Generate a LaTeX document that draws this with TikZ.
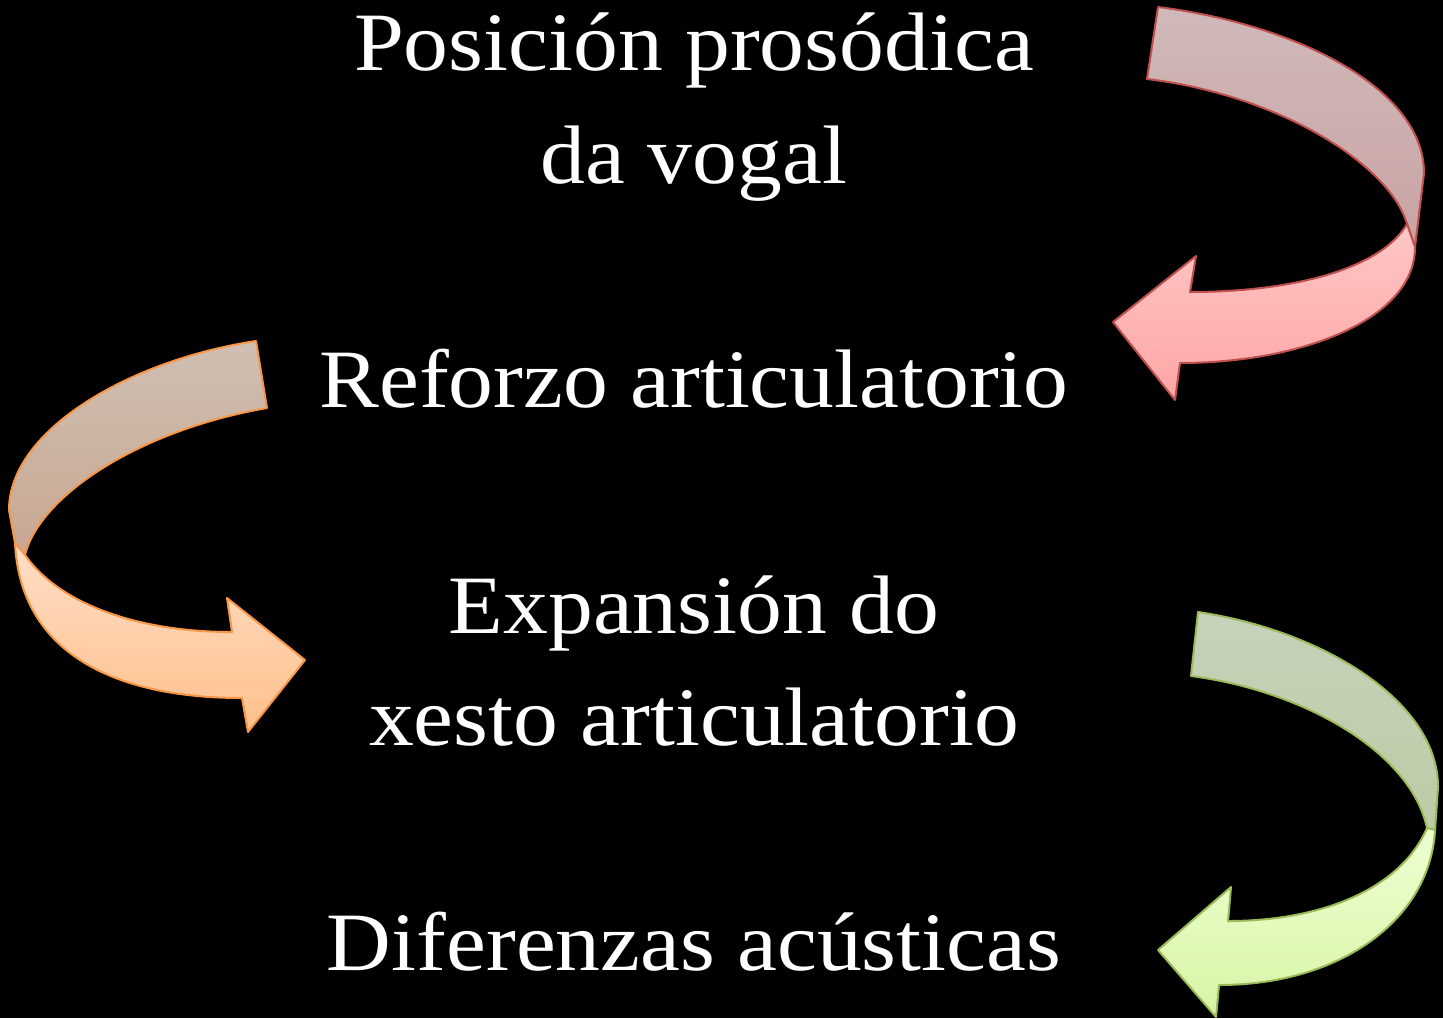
\documentclass[tikz,border=0pt]{standalone}
\usepackage{fontspec}
\setmainfont{Liberation Serif}[FakeStretch=1.08]
\begin{document}
\begin{tikzpicture}[x=0.5pt,y=-0.5pt,
  lbl/.style={text=white,inner sep=0pt,anchor=base,font=\fontsize{41.5}{50}\selectfont},
  redback/.style={draw=red!50!black!60!red, line width=1pt, top color=rtopb, bottom color=rbotb},
]
\definecolor{rline}{HTML}{C0504D}
\definecolor{rtopb}{HTML}{D0B9B9}
\definecolor{rbotb}{HTML}{C9A3A3}
\definecolor{rtopf}{HTML}{FFC6C6}
\definecolor{rbotf}{HTML}{FFA6A6}
\definecolor{oline}{HTML}{F79646}
\definecolor{otopb}{HTML}{CFBFB2}
\definecolor{obotb}{HTML}{C8A792}
\definecolor{otopf}{HTML}{FFDEC6}
\definecolor{obotf}{HTML}{FFC08C}
\definecolor{gline}{HTML}{9BBB59}
\definecolor{gtopb}{HTML}{C6D2BA}
\definecolor{gbotb}{HTML}{BDCBA6}
\definecolor{gtopf}{HTML}{EEFFD2}
\definecolor{gbotf}{HTML}{D6F5A6}
\tikzset{
  rb/.style={draw=rline, line width=1pt, line join=round, top color=rtopb, bottom color=rbotb},
  rf/.style={draw=rline, line width=1pt, line join=round, top color=rtopf, bottom color=rbotf},
  ob/.style={draw=oline, line width=1pt, line join=round, top color=otopb, bottom color=obotb},
  of/.style={draw=oline, line width=1pt, line join=round, top color=otopf, bottom color=obotf},
  gb/.style={draw=gline, line width=1pt, line join=round, top color=gtopb, bottom color=gbotb},
  gf/.style={draw=gline, line width=1pt, line join=round, top color=gtopf, bottom color=gbotf},
}
\fill[black] (0,0) rectangle (1443,1018);
\useasboundingbox (0,0) rectangle (1443,1018);

% text
\node[lbl] (t1) at (694,70) {Posición prosódica};
\node[lbl] (t2) at (694,183) {da vogal};
\node[lbl] (t3) at (694,407) {Reforzo articulatorio};
\node[lbl] (t4) at (694,633) {Expansión do};
\node[lbl] (t5) at (694,745) {xesto articulatorio};
\node[lbl] (t6) at (694,970) {Diferenzas acústicas};

% red arrow
\path[rb] (1158,7) .. controls (1300,25) and (1424,90) .. (1424,173) -- (1415,247) -- (1407,224)
  .. controls (1390,165) and (1280,95) .. (1147,79) -- cycle;
\path[rf] (1407,224) -- (1415,247) .. controls (1415,320) and (1300,363) .. (1180,363)
  -- (1175,400) -- (1113,322) -- (1196,256) -- (1190,292)
  .. controls (1290,292) and (1380,270) .. (1407,224) -- cycle;

% orange arrow
\path[ob] (256,341) .. controls (130,360) and (9,430) .. (9,510) -- (15,543) -- (25,555)
  .. controls (40,495) and (140,430) .. (267,408) -- cycle;
\path[of] (25,555) -- (15,543) .. controls (20,650) and (110,698) .. (242,698)
  -- (248,732) -- (305,660) -- (227,598) -- (232,632)
  .. controls (140,632) and (60,605) .. (25,555) -- cycle;

% green arrow
\path[gb] (1198,612) .. controls (1320,630) and (1438,700) .. (1438,787) -- (1435,830) -- (1427,828)
  .. controls (1410,750) and (1300,690) .. (1191,676) -- cycle;
\path[gf] (1427,828) -- (1435,830) .. controls (1430,920) and (1340,985) .. (1219,985)
  -- (1216,1017) -- (1158,950) -- (1231,887) -- (1228,921)
  .. controls (1320,921) and (1400,890) .. (1427,828) -- cycle;
\end{tikzpicture}
\end{document}
